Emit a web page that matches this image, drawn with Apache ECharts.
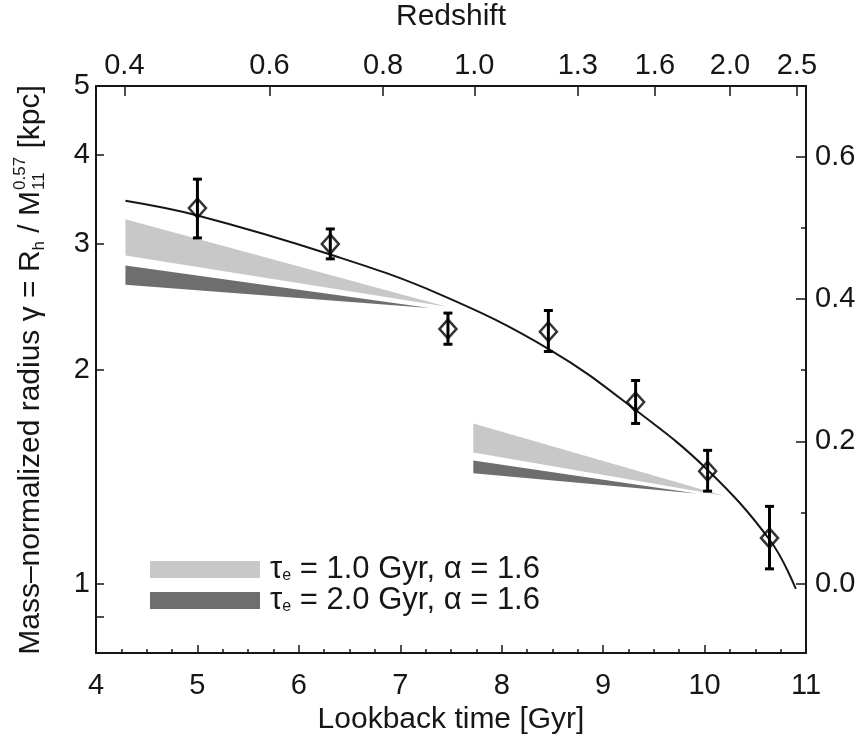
<!DOCTYPE html>
<html>
<head>
<meta charset="utf-8">
<script src="https://cdn.jsdelivr.net/npm/echarts@6/dist/echarts.min.js"></script>
<style>
  html, body { margin: 0; padding: 0; background: #fff; }
  #chart { width: 859px; height: 736px; }
</style>
</head>
<body>
<div id="chart"></div>
<script>
// Binned measurements: lookback time (Gyr), mass-normalized radius and its error range
const pointTime  = [5.00, 6.31, 7.47, 8.46, 9.32, 10.03, 10.64];
const pointGamma = [3.37, 3.00, 2.28, 2.26, 1.80, 1.44, 1.16];
const gammaLow   = [3.06, 2.86, 2.17, 2.12, 1.68, 1.35, 1.05];
const gammaHigh  = [3.70, 3.15, 2.40, 2.42, 1.93, 1.54, 1.285];

// Best-fit evolution curve
const fitTime  = [4.29, 5.00, 6.31, 7.39, 8.48, 9.33, 10.02, 10.65, 10.90];
const fitGamma = [3.45, 3.29, 2.90, 2.55, 2.13, 1.75, 1.45, 1.149, 0.984];

// Model wedges (two starting epochs each): start time, upper/lower gamma at start, apex time and gamma
const bandStartTime  = [4.29, 7.72];
const lightUpper     = [3.25, 1.68];
const lightLower     = [2.89, 1.53];
const lightApexTime  = [7.46, 10.19];
const lightApexGamma = [2.45, 1.33];
const darkUpper      = [2.80, 1.49];
const darkLower      = [2.63, 1.43];
const darkApexTime   = [7.29, 9.92];
const darkApexGamma  = [2.44, 1.34];

// Redshift ticks on the top axis, placed at their lookback times
const zTickTime   = [4.28, 5.71, 6.83, 7.73, 8.75, 9.51, 10.25, 10.91];
const zTickLabels = ['0.4', '0.6', '0.8', '1.0', '1.3', '1.6', '2.0', '2.5'];

// Tick values
const gammaMajorTicks = [1, 2, 3, 4, 5];
const gammaMinorTicks = [0.9];
const logGammaMajorTicks = [0.0, 0.2, 0.4, 0.6];
const logGammaMinorTicks = [0.1, 0.3, 0.5];

const bandNames = ['τe = 1.0 Gyr, α = 1.6', 'τe = 2.0 Gyr, α = 1.6'];

const FONT = 'Liberation Sans';
const INK = '#161616';
const LIGHT = '#c8c8c8';
const DARK = '#6e6e6e';
const TICK_SIZE = 29, TITLE_SIZE = 30;
const GAMMA_MIN = 0.8, GAMMA_MAX = 5;

const chart = echarts.init(document.getElementById('chart'));

function wedgeRows(upper, lower, apexT, apexG) {
  return bandStartTime.map((t, i) => [t, upper[i], lower[i], apexT[i], apexG[i]]);
}
function renderWedge(color) {
  return function (params, api) {
    const a = api.coord([api.value(0), api.value(1)]);
    const b = api.coord([api.value(3), api.value(4)]);
    const c = api.coord([api.value(0), api.value(2)]);
    return { type: 'polygon', shape: { points: [a, b, c] }, style: { fill: color } };
  };
}

// Y-axis title, built from pieces so the sub/superscripts sit correctly
const ctx = document.createElement('canvas').getContext('2d');
function textWidth(s, size) { ctx.font = size + 'px "' + FONT + '"'; return ctx.measureText(s).width; }
const BIG = 30, SMALL = 17;
const titleParts = [];
let cx = 0;
function addPart(text, size, dy, advance) {
  titleParts.push({ type: 'text', x: cx, y: dy, style: { text, font: size + 'px "' + FONT + '"', fill: INK, verticalAlign: 'middle' } });
  if (advance) cx += textWidth(text, size);
}
addPart('Mass–normalized radius γ = R', BIG, 0, true);
addPart('h', SMALL, 8, true);
addPart(' / M', BIG, 0, true);
const mEnd = cx + 1;
cx = mEnd;
addPart('0.57', SMALL, -11, false);
addPart('11', SMALL, 8, false);
cx = mEnd + Math.max(textWidth('0.57', SMALL), textWidth('11', SMALL));
addPart(' [kpc]', BIG, 0, true);
const titleLen = cx;

const option = {
  backgroundColor: '#fff',
  animation: false,
  grid: { left: 96, right: 53, top: 86, bottom: 83, containLabel: false, outerBoundsMode: 'none' },
  legend: {
    left: 145, top: 549, orient: 'vertical',
    itemWidth: 110, itemHeight: 17, itemGap: 0,
    icon: 'rect',
    data: bandNames,
    formatter: function (name) {
      return '{t|τ}{s|e}{t|' + name.slice(2) + '}';
    },
    textStyle: {
      fontFamily: FONT, fontSize: 31, color: INK, padding: [0, 0, 0, 5],
      rich: {
        t: { fontFamily: FONT, fontSize: 31, color: INK, lineHeight: 28 },
        s: { fontFamily: FONT, fontSize: 16, color: INK, lineHeight: 28, padding: [13, 0, 0, 0] }
      }
    }
  },
  xAxis: [
    {
      type: 'value', position: 'bottom', min: 4, max: 11, interval: 1,
      axisLine: { show: true, onZero: false, lineStyle: { color: INK, width: 2 } },
      axisTick: { show: true, inside: true, length: 8, lineStyle: { color: INK, width: 1.5 } },
      minorTick: { show: true, splitNumber: 4, length: 4, lineStyle: { color: INK, width: 1.5 } },
      axisLabel: { margin: 18, fontFamily: FONT, fontSize: TICK_SIZE, color: INK },
      splitLine: { show: false }, minorSplitLine: { show: false },
      name: 'Lookback time [Gyr]', nameLocation: 'middle', nameGap: 49,
      nameTextStyle: { fontFamily: FONT, fontSize: TITLE_SIZE, color: INK }
    },
    {
      type: 'value', position: 'top', min: 4, max: 11,
      axisLine: { show: true, onZero: false, lineStyle: { color: INK, width: 2 } },
      axisTick: { show: true, inside: true, length: 10, customValues: zTickTime, lineStyle: { color: INK, width: 1.5 } },
      axisLabel: {
        margin: 6, fontFamily: FONT, fontSize: TICK_SIZE, color: INK,
        customValues: zTickTime,
        formatter: function (v) {
          const i = zTickTime.findIndex(t => Math.abs(t - v) < 1e-6);
          return i >= 0 ? zTickLabels[i] : '';
        }
      },
      splitLine: { show: false },
      name: 'Redshift', nameLocation: 'middle', nameGap: 54,
      nameTextStyle: { fontFamily: FONT, fontSize: TITLE_SIZE, color: INK }
    }
  ],
  yAxis: [
    {
      type: 'log', logBase: 10, position: 'left', min: GAMMA_MIN, max: GAMMA_MAX,
      axisLine: { show: true, onZero: false, lineStyle: { color: INK, width: 2 } },
      axisTick: { show: true, inside: true, length: 8, customValues: gammaMinorTicks.concat(gammaMajorTicks), lineStyle: { color: INK, width: 1.5 } },
      axisLabel: { margin: 6, fontFamily: FONT, fontSize: TICK_SIZE, color: INK, customValues: gammaMajorTicks },
      splitLine: { show: false }
    },
    {
      type: 'value', position: 'right', min: Math.log10(GAMMA_MIN), max: Math.log10(GAMMA_MAX),
      axisLine: { show: true, onZero: false, lineStyle: { color: INK, width: 2 } },
      axisTick: { show: true, inside: true, length: 10, customValues: logGammaMajorTicks, lineStyle: { color: INK, width: 1.5 } },
      axisLabel: { margin: 9, fontFamily: FONT, fontSize: TICK_SIZE, color: INK, customValues: logGammaMajorTicks, formatter: v => v.toFixed(1) },
      splitLine: { show: false }
    },
    {
      type: 'value', position: 'right', min: Math.log10(GAMMA_MIN), max: Math.log10(GAMMA_MAX),
      axisLine: { show: false },
      axisTick: { show: true, inside: true, length: 5, customValues: logGammaMinorTicks, lineStyle: { color: INK, width: 1.5 } },
      axisLabel: { show: false },
      splitLine: { show: false }
    }
  ],
  graphic: [{
    type: 'group',
    x: 31, y: 370 + titleLen / 2,
    rotation: Math.PI / 2,
    children: titleParts
  }],
  series: [
    {
      name: bandNames[0], type: 'custom', xAxisIndex: 0, yAxisIndex: 0,
      itemStyle: { color: LIGHT },
      encode: { x: 0, y: [1, 2, 4] },
      data: wedgeRows(lightUpper, lightLower, lightApexTime, lightApexGamma),
      renderItem: renderWedge(LIGHT), z: 1
    },
    {
      name: bandNames[1], type: 'custom', xAxisIndex: 0, yAxisIndex: 0,
      itemStyle: { color: DARK },
      encode: { x: 0, y: [1, 2, 4] },
      data: wedgeRows(darkUpper, darkLower, darkApexTime, darkApexGamma),
      renderItem: renderWedge(DARK), z: 1
    },
    {
      type: 'line', xAxisIndex: 0, yAxisIndex: 0,
      data: fitTime.map((t, i) => [t, fitGamma[i]]),
      smooth: 0.4, showSymbol: false, symbol: 'none',
      lineStyle: { color: INK, width: 2 }, z: 3
    },
    {
      type: 'custom', xAxisIndex: 0, yAxisIndex: 0,
      data: pointTime.map((t, i) => [t, gammaLow[i], gammaHigh[i]]),
      encode: { x: 0, y: [1, 2] },
      renderItem: function (params, api) {
        const lo = api.coord([api.value(0), api.value(1)]);
        const hi = api.coord([api.value(0), api.value(2)]);
        const cap = 4.5;
        const st = { stroke: '#000', lineWidth: 3 };
        return {
          type: 'group', children: [
            { type: 'line', shape: { x1: lo[0], y1: lo[1], x2: hi[0], y2: hi[1] }, style: st },
            { type: 'line', shape: { x1: lo[0] - cap, y1: lo[1], x2: lo[0] + cap, y2: lo[1] }, style: st },
            { type: 'line', shape: { x1: hi[0] - cap, y1: hi[1], x2: hi[0] + cap, y2: hi[1] }, style: st }
          ]
        };
      },
      z: 4
    },
    {
      type: 'scatter', xAxisIndex: 0, yAxisIndex: 0,
      data: pointTime.map((t, i) => [t, pointGamma[i]]),
      symbol: 'diamond', symbolSize: [17, 19],
      itemStyle: { color: 'rgba(0,0,0,0)', borderColor: '#000', borderWidth: 2.5 },
      z: 5
    }
  ]
};
chart.setOption(option);
</script>
</body>
</html>
